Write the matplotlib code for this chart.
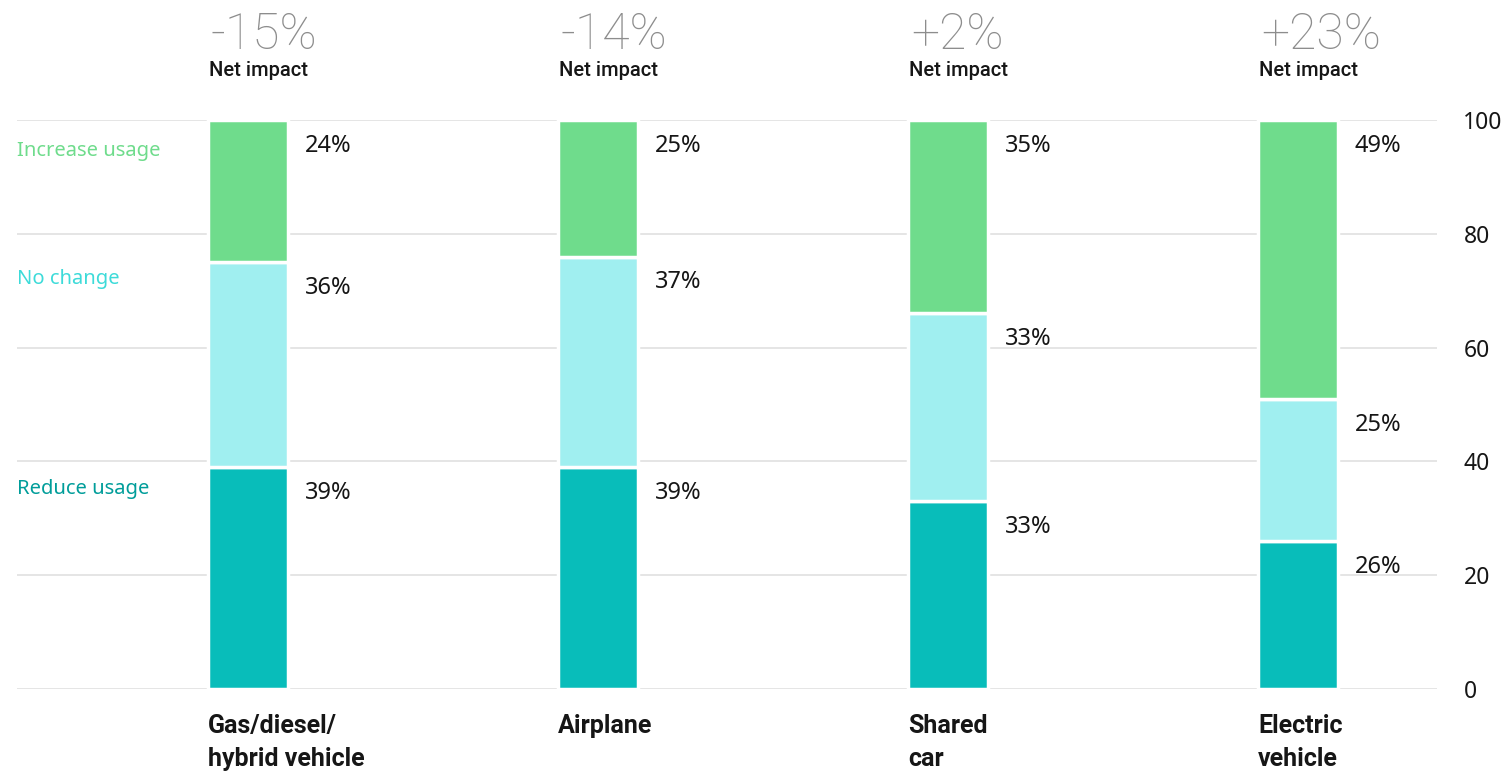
import matplotlib.pyplot as plt

plt.rcParams['font.family'] = ['Noto Sans', 'DejaVu Sans']

# Categories and values
categories = ["Gas/diesel/\nhybrid vehicle", "Airplane", "Shared\ncar", "Electric\nvehicle"]
net_impact = ["-15%", "-14%", "+2%", "+23%"]

# bar heights (as drawn) for each segment
reduce_usage = [39, 39, 33, 26]
no_change = [36, 37, 33, 25]
increase_usage = [25, 24, 34, 49]

# printed labels
reduce_labels = ["39%", "39%", "33%", "26%"]
no_change_labels = ["36%", "37%", "33%", "25%"]
increase_labels = ["24%", "25%", "35%", "49%"]

c_reduce = '#08bdba'
c_nochange = '#a0eff0'
c_increase = '#6fdc8c'

fig = plt.figure(figsize=(15.07, 7.71), dpi=100)
ax = fig.add_axes([17 / 1507, 82 / 771, 1420 / 1507, 569 / 771])

x = list(range(len(categories)))
w = 0.2286

# gridlines
for t in range(0, 101, 20):
    ax.axhline(t, color='#e0e0e0', lw=1.2, zorder=0)

bottoms2 = [a + b for a, b in zip(reduce_usage, no_change)]
ax.bar(x, reduce_usage, width=w, color=c_reduce, edgecolor='white', lw=2.5, zorder=2)
ax.bar(x, no_change, width=w, bottom=reduce_usage, color=c_nochange, edgecolor='white', lw=2.5, zorder=2)
ax.bar(x, increase_usage, width=w, bottom=bottoms2, color=c_increase, edgecolor='white', lw=2.5, zorder=2)

ax.set_xlim(-0.66, 3.397)
ax.set_ylim(0, 100)

# value labels to the right of each bar, just under segment top
tops = [
    (reduce_usage, reduce_labels),
    (bottoms2, no_change_labels),
    ([b + i for b, i in zip(bottoms2, increase_usage)], increase_labels),
]
for vals, labs in tops:
    for i, (v, lab) in enumerate(zip(vals, labs)):
        ax.annotate(lab, (i + w / 2, min(v, 100)), xytext=(12, -10),
                    textcoords='offset points', ha='left', va='top',
                    fontsize=17, color='#161616')

# net impact headers and category names
for i, cat in enumerate(categories):
    ax.annotate(net_impact[i], (i - w / 2, 100), xytext=(2, 61), textcoords='offset points',
                ha='left', va='center', fontsize=36, color='#8d8d8d',
                fontweight='light', family=['Roboto', 'DejaVu Sans'])
    ax.annotate("Net impact", (i - w / 2, 100), xytext=(1, 36), textcoords='offset points',
                ha='left', va='center', fontsize=14.5, color='#161616',
                fontweight='medium', family=['Roboto', 'DejaVu Sans'])
    ax.annotate(cat, (i - w / 2, 0), xytext=(0, -18), textcoords='offset points',
                ha='left', va='top', fontsize=18, fontweight='bold', color='#161616',
                linespacing=1.45, family=['Roboto', 'DejaVu Sans'])

# legend labels on the left
ax.text(0, 94.6, "Increase usage", transform=ax.get_yaxis_transform(), color=c_increase,
        fontsize=14.5, va='center', ha='left')
ax.text(0, 72.1, "No change", transform=ax.get_yaxis_transform(), color='#3ddbd9',
        fontsize=14.5, va='center', ha='left')
ax.text(0, 35.2, "Reduce usage", transform=ax.get_yaxis_transform(), color='#009d9a',
        fontsize=14.5, va='center', ha='left')

# right-hand y axis
ax.yaxis.tick_right()
ax.set_yticks(range(0, 101, 20))
ax.tick_params(axis='y', length=0, pad=19, labelsize=16.5, labelcolor='#161616')
ax.set_xticks([])
for s in ax.spines.values():
    s.set_visible(False)

fig.savefig('out.png', dpi=100)
